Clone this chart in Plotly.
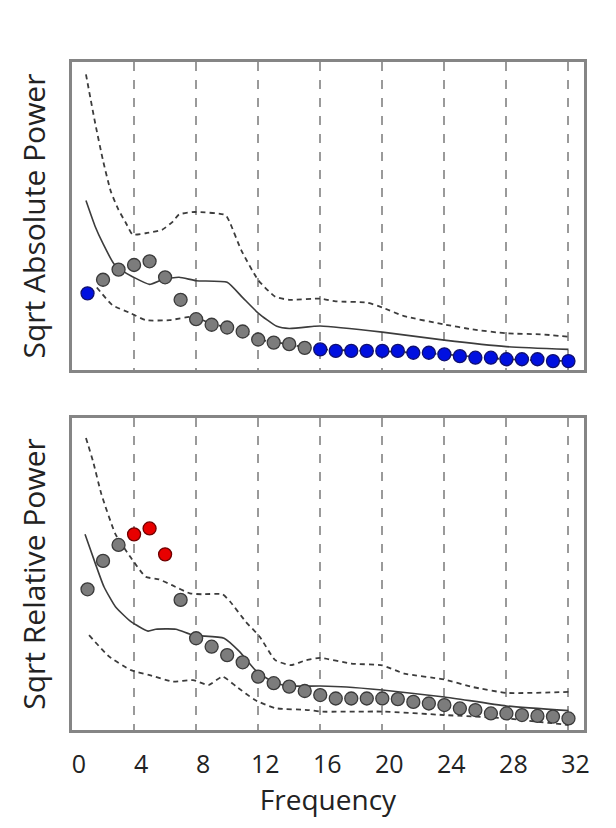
import plotly.graph_objects as go

# ---- data ----
freq = list(range(1, 33))

abs_power = [24.9, 29.3, 32.6, 34.1, 35.3, 30.1, 22.8, 16.5, 14.7, 13.8, 12.5, 9.9, 8.9, 8.4, 7.2,
             6.7, 6.2, 6.2, 6.2, 6.2, 6.2, 5.6, 5.6, 5.1, 4.5, 4.0, 4.0, 3.5, 3.5, 3.5, 2.9, 2.9]
abs_flag = ["blue"] + ["gray"] * 14 + ["blue"] * 17

rel_power = [45.1, 54.2, 59.3, 62.7, 64.6, 56.3, 41.7, 29.4, 26.7, 24.0, 21.7, 17.1, 15.0, 13.9, 12.5,
             11.2, 10.1, 10.1, 10.1, 10.1, 9.9, 9.0, 8.5, 8.0, 6.9, 6.4, 5.3, 5.3, 4.8, 4.5, 4.3, 3.7]
rel_flag = ["gray"] * 3 + ["red"] * 3 + ["gray"] * 26

abs_mean_x = [0.9, 1.5, 2.0, 2.7, 3.3, 3.9, 5.0, 5.9, 6.9, 8.0, 10.0, 11.0, 12.0, 13.2, 14.0, 15.6, 16.0, 20.0, 24.0, 28.0, 32.0]
abs_mean_y = [55.0, 46.5, 41.0, 34.5, 32.0, 30.3, 27.8, 29.5, 30.1, 29.0, 28.5, 23.5, 18.5, 14.2, 13.5, 14.2, 14.3, 12.3, 9.7, 7.6, 6.7]

abs_up_x = [0.9, 1.5, 2.0, 2.5, 3.0, 3.5, 3.9, 4.75, 5.8, 6.5, 6.9, 7.9, 9.9, 10.2, 10.9, 12.0, 13.1, 14.0, 16.0, 17.0, 19.0, 20.0, 21.4, 24.0, 25.8, 28.0, 30.2, 32.0]
abs_up_y = [96.0, 80.0, 68.0, 58.0, 52.0, 47.5, 44.0, 44.4, 45.5, 48.2, 50.5, 51.3, 50.3, 47.6, 39.0, 29.2, 23.8, 22.8, 23.2, 22.3, 21.9, 20.3, 17.5, 14.8, 13.2, 11.9, 11.6, 10.8]

abs_lo_x = [1.6, 2.6, 3.8, 4.75, 6.3, 7.8, 9.0, 10.0, 11.0, 12.0, 13.0, 14.0, 15.0, 16.0, 20.0, 24.0, 28.0, 32.0]
abs_lo_y = [26.8, 21.1, 18.4, 16.2, 16.2, 17.3, 15.0, 13.8, 12.5, 10.0, 9.0, 8.4, 7.3, 6.7, 6.1, 5.1, 3.5, 2.9]

rel_mean_x = [0.84, 1.5, 2.06, 2.8, 3.8, 4.9, 5.4, 6.7, 7.8, 9.8, 10.8, 12.0, 13.2, 14.0, 16.0, 17.7, 20.0, 24.0, 28.0, 32.0]
rel_mean_y = [62.7, 53.4, 45.9, 39.5, 34.7, 31.7, 32.3, 32.3, 30.4, 29.4, 25.1, 18.2, 15.0, 14.1, 14.1, 13.8, 12.8, 10.6, 7.7, 6.2]

rel_up_x = [0.9, 1.35, 1.9, 2.8, 3.8, 4.75, 5.6, 6.4, 7.6, 8.4, 9.7, 10.2, 11.2, 12.1, 13.1, 14.1, 15.1, 16.0, 18.0, 20.0, 21.4, 24.0, 25.8, 28.0, 32.0]
rel_up_y = [93.6, 86.2, 75.5, 62.8, 55.2, 49.1, 48.3, 46.5, 43.8, 43.5, 43.5, 41.1, 34.7, 29.9, 22.4, 20.8, 22.4, 23.1, 21.3, 20.7, 18.1, 16.2, 13.8, 11.9, 12.2]

rel_lo_x = [1.1, 2.4, 3.8, 5.0, 6.5, 7.8, 8.8, 9.7, 10.6, 11.8, 13.1, 15.3, 16.0, 20.0, 24.0, 28.0, 30.7, 32.0]
rel_lo_y = [30.4, 23.5, 19.2, 17.6, 15.5, 16.0, 14.4, 17.1, 13.9, 9.6, 7.0, 6.4, 5.9, 5.9, 4.8, 3.7, 2.3, 1.6]

x_ticks = [0, 4, 8, 12, 16, 20, 24, 28, 32]

# ---- styles ----
fill = {"gray": "#7c7c7c", "blue": "#0010e0", "red": "#e80000"}
edge = {"gray": "#3a3a3a", "blue": "#101070", "red": "#700000"}
FONT = "Open Sans"

fig = go.Figure()

def add_panel(xa, ya, mx, my, ux, uy, lx, ly, vals, flags):
    for xs, ys, dash in [(ux, uy, "5px,4px"), (lx, ly, "5px,4px"), (mx, my, "solid")]:
        fig.add_trace(go.Scatter(x=xs, y=ys, mode="lines", xaxis=xa, yaxis=ya,
                                 line=dict(color="#3c3c3c", width=1.8 if dash != "solid" else 1.6,
                                           dash=dash, shape="spline", smoothing=0.5),
                                 showlegend=False, hoverinfo="skip"))
    fig.add_trace(go.Scatter(x=freq, y=vals, mode="markers", xaxis=xa, yaxis=ya,
                             marker=dict(size=13, color=[fill[f] for f in flags],
                                         line=dict(color=[edge[f] for f in flags], width=1.3)),
                             showlegend=False))

add_panel("x", "y", abs_mean_x, abs_mean_y, abs_up_x, abs_up_y, abs_lo_x, abs_lo_y, abs_power, abs_flag)
add_panel("x2", "y2", rel_mean_x, rel_mean_y, rel_up_x, rel_up_y, rel_lo_x, rel_lo_y, rel_power, rel_flag)

xcommon = dict(range=[0, 33], tickvals=x_ticks, showgrid=True, gridcolor="#9a9a9a", griddash="dash",
               gridwidth=1.5, zeroline=False, showline=True, mirror=True, linecolor="#858585",
               linewidth=3, ticks="", fixedrange=True)
ycommon = dict(range=[0, 100], showgrid=False, zeroline=False, showticklabels=False,
               showline=True, mirror=True, linecolor="#858585", linewidth=3, ticks="")

# page body adds ~8px offset; figure is sized to fit inside the 616x828 window
fig.update_layout(
    width=608, height=820,
    margin=dict(l=64, r=32, t=54, b=98),
    paper_bgcolor="white", plot_bgcolor="white",
    font=dict(family=FONT, color="#222"),
    xaxis=dict(domain=[0, 1], anchor="y", showticklabels=False, **xcommon),
    yaxis=dict(domain=[0.5389, 1], anchor="x",
               title=dict(text="Sqrt Absolute Power", font=dict(size=30, family=FONT), standoff=15),
               **ycommon),
    xaxis2=dict(domain=[0, 1], anchor="y2", showticklabels=True,
                tickfont=dict(size=25, family=FONT), ticklabelstandoff=10, ticklabelshift=7,
                title=dict(text="Frequency", font=dict(size=28, family=FONT), standoff=4),
                **xcommon),
    yaxis2=dict(domain=[0, 0.4671], anchor="x2",
                title=dict(text="Sqrt Relative Power", font=dict(size=30, family=FONT), standoff=15),
                **ycommon),
)

fig.write_html("out.html")
